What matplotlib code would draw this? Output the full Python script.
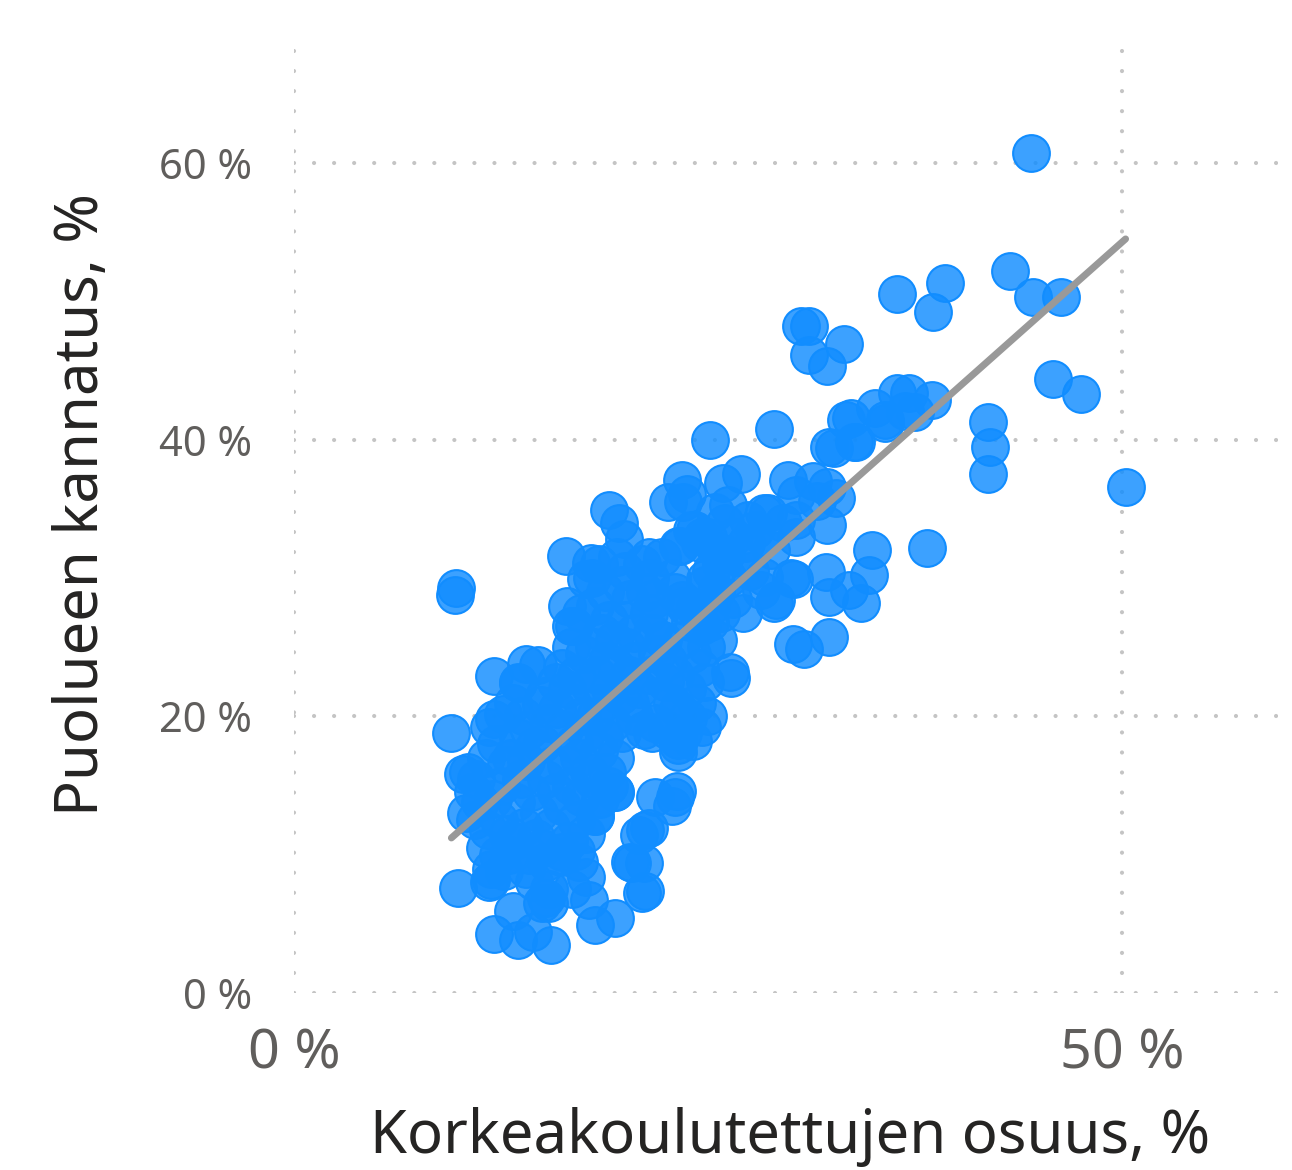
import numpy as np
import matplotlib.pyplot as plt

# korkeakoulutettujen osuus (%) ja puolueen kannatus (%)
edu = [
    # top / right outliers
    44.5, 43.2, 39.3, 38.6, 36.4, 44.6, 46.3, 30.6, 31.1, 31.1, 33.2, 32.2,
    45.8, 47.5, 41.9, 42.0, 41.9, 50.2, 38.2, 36.4, 37.1, 38.5, 35.1, 35.7,
    33.6, 33.9, 32.6, 29.0, 25.1, 27.0, 23.4, 23.7, 22.6, 25.9, 26.2, 29.8,
    31.3, 32.2, 32.7, 31.6, 30.3, 28.4, 32.2, 30.3, 29.5, 28.8, 30.2, 32.1,
    32.3, 33.5, 34.2, 32.3, 30.1, 30.8, 29.1, 27.1, 28.2, 34.9, 34.7, 27.5,
    35.7, 36.9, 37.5, 33.3, 33.8, 32.3, 27.4, 28.6, 30.3, 24.2, 23.2, 21.4,
    28.4, 23.4, 24.8, 26.4, 24.6, 26.1, 29.0, 30.0,
    # left outliers
    9.8, 9.7, 9.5, 12.1, 14.7, 13.5,
    # lower chain
    20.3, 21.1, 20.8, 21.4, 21.0, 21.8, 22.8, 23.0, 19.4, 19.4, 18.2, 15.5,
    14.4, 13.5, 13.2, 12.1, 9.9, 11.9, 15.4, 17.6, 17.8, 17.0, 18.2, 21.2,
    20.4, 21.2, 23.2, 23.1, 11.8, 15.2, 16.1, 23.2, 21.6,
    # dense cluster
    10.5, 10.2, 11.0, 10.8, 10.4, 11.2, 10.9, 11.7, 11.5, 12.3, 11.9, 12.1,
    11.8, 12.6, 12.2, 11.6, 12.8, 12.5, 12.0, 12.4, 12.9, 13.0, 12.7,
    13.2, 13.5, 14.0, 13.8, 14.2, 13.5, 13.1, 14.0, 14.5, 13.7, 14.3, 13.4,
    14.8, 13.9, 14.6, 13.3, 14.2, 15.0, 14.0, 15.2, 14.5, 15.4, 15.0, 16.2,
    15.5, 15.8, 15.2, 15.6, 15.0, 15.4, 15.9, 15.1, 15.8, 14.9,
    16.4, 16.5, 16.9, 17.3, 16.7, 17.5, 16.2, 17.0, 16.5, 17.8, 16.8, 17.4,
    16.3, 17.6, 16.9, 17.2, 16.4, 17.8, 16.7, 17.3, 16.2, 17.0, 18.2, 17.6,
    16.6, 16.8, 17.2, 17.9, 17.6, 16.7,
    18.0, 18.4, 18.8, 18.2, 19.0, 18.6, 19.3, 18.1, 18.9, 19.5, 18.3, 19.1,
    18.6, 19.7, 18.2, 19.2, 18.7, 19.8, 18.4, 19.4, 18.9, 18.0, 19.0, 18.5,
    19.4, 19.0, 19.6, 19.9, 19.5, 20.0, 19.8, 20.3, 20.0, 20.5, 20.1, 20.6,
    20.2, 20.8, 20.3, 21.1, 20.5,
    21.0, 21.5, 21.2, 21.8, 21.4, 22.0, 21.6, 22.3, 21.9, 22.6, 21.5, 22.4,
    23.0, 22.0, 22.8, 23.2, 21.8, 22.5, 23.8, 23.2, 23.5, 22.2, 22.8, 23.3,
    23.0, 23.6, 23.9, 24.2, 24.6, 23.4, 24.0, 24.5, 24.8, 23.7, 24.3, 25.0,
    24.6, 24.1, 23.5, 24.0, 24.5, 25.0, 25.5, 25.2, 25.8, 24.8, 25.5, 26.2,
    26.8, 27.3, 27.8, 28.3, 26.0, 26.5, 25.4, 25.2, 25.8, 26.5, 26.3, 25.1,
    25.6, 24.9,
]
support = [
    60.7, 52.2, 51.3, 49.2, 50.5, 50.3, 50.3, 48.2, 48.2, 46.1, 46.9, 45.3,
    44.4, 43.3, 41.3, 39.5, 37.5, 36.6, 32.2, 43.4, 43.4, 42.9, 42.3, 41.2,
    41.6, 39.8, 39.4, 40.8, 40.0, 37.5, 37.1, 36.1, 35.5, 36.9, 35.3, 37.1,
    37.0, 36.6, 35.8, 35.6, 36.0, 34.7, 33.8, 33.0, 34.0, 32.0, 29.9, 30.4,
    28.6, 29.1, 28.2, 25.7, 25.2, 24.9, 28.4, 27.5, 29.1, 32.0, 30.2, 30.5,
    41.4, 42.1, 42.0, 41.4, 39.8, 39.5, 34.2, 34.7, 34.2, 33.5, 32.3, 31.5,
    30.1, 28.4, 29.9, 22.8, 33.0, 31.7, 28.2, 30.0,
    29.3, 28.8, 18.8, 22.9, 23.7, 22.4,
    9.5, 9.4, 11.4, 11.9, 7.2, 14.2, 13.5, 14.2, 14.5, 5.4, 4.9, 3.5,
    4.4, 3.8, 5.9, 4.3, 7.6, 8.2, 6.5, 8.4, 6.7, 10.3, 12.8, 11.8,
    9.4, 7.4, 17.4, 14.6, 8.0, 6.9, 9.8, 18.3, 18.8,
    16.0, 15.8, 15.5, 14.5, 13.0, 13.8, 12.5, 11.8, 10.5, 10.0, 9.0, 19.8,
    19.2, 20.2, 18.0, 17.0, 16.5, 15.0, 14.0, 12.5, 11.5, 10.0, 8.8,
    21.0, 22.5, 23.8, 20.0, 19.0, 18.5, 17.0, 16.8, 17.8, 15.5, 14.5, 13.8,
    13.0, 12.0, 11.2, 11.0, 10.0, 10.5, 9.0, 9.5, 8.0, 7.5, 6.5, 10.2,
    12.0, 14.5, 15.5, 16.5, 18.0, 19.5, 20.5, 21.5, 22.5, 20.8,
    31.6, 28.0, 26.5, 27.5, 25.0, 24.5, 23.5, 23.0, 22.0, 22.3, 21.0, 20.0,
    19.0, 18.8, 18.0, 17.0, 16.5, 16.0, 15.0, 14.2, 13.5, 12.5, 12.8, 11.5,
    11.0, 7.5, 9.5, 31.1, 29.9, 26.5,
    30.0, 31.0, 29.0, 28.0, 27.0, 26.0, 25.5, 25.0, 24.0, 23.5, 23.0, 22.0,
    21.0, 21.5, 20.0, 19.5, 18.5, 18.8, 17.5, 17.0, 16.0, 15.5, 15.0, 14.0,
    14.5, 34.9, 34.0, 32.8, 31.5, 30.5, 29.5, 28.5, 27.0, 26.0, 25.0, 24.0,
    23.0, 22.0, 21.0, 19.0, 20.0,
    31.0, 30.0, 29.0, 28.5, 27.5, 27.0, 26.0, 25.5, 24.5, 24.0, 23.0, 22.5,
    23.0, 21.5, 21.0, 20.5, 19.5, 19.0, 19.9, 17.9, 18.8, 31.5, 30.0, 32.3,
    29.0, 28.0, 26.8, 27.8, 26.5, 25.5, 24.5, 23.5, 22.5, 22.0, 21.0, 20.0,
    19.2, 18.2, 35.5, 33.5, 32.5, 33.0, 32.0, 30.5, 31.0, 29.5, 29.0, 30.0,
    31.5, 32.5, 33.5, 33.0, 34.0, 33.0, 34.8, 28.0, 27.5, 28.5, 23.2, 26.8,
    25.5, 25.0,
]

# trend line
slope = 1.064
intercept = 1.1

xticks = [0, 50]
yticks = [0, 20, 40, 60]

plt.rcParams['font.family'] = ['Noto Sans', 'DejaVu Sans']

fig = plt.figure(figsize=(12.92, 11.7), dpi=100)
ax = fig.add_axes([294/1292, 1-993/1170, 984/1292, 960/1170])

ax.scatter(edu, support, s=700, facecolor=(17/255, 141/255, 1, 0.82),
           edgecolor=(17/255, 141/255, 1, 1.0), linewidth=1.5, zorder=3)

xs = np.array([min(edu), max(edu)])
ax.plot(xs, slope*xs + intercept, color='#999999', lw=5, solid_capstyle='round', zorder=4)

ax.set_xlim(0, 59.4)
ax.set_ylim(0, 69.4)
ax.set_xticks(xticks)
ax.set_xticklabels([f'{v} %' for v in xticks])
ax.set_yticks(yticks)
ax.set_yticklabels([f'{v} %' for v in yticks])

ax.grid(True, color='#c4c4c4', linestyle=(0, (0.01, 4.8)), linewidth=3, dash_capstyle='round')
ax.set_axisbelow(True)
for s in ax.spines.values():
    s.set_visible(False)

ax.tick_params(axis='x', length=0, pad=24, labelsize=40, labelcolor='#605E5C')
ax.tick_params(axis='y', length=0, pad=30, labelsize=30, labelcolor='#605E5C')

fig.text(790/1292, 1-1137/1170, 'Korkeakoulutettujen osuus, %', ha='center', va='center',
         fontsize=43, color='#252423')
fig.text(82/1292, 1-505/1170, 'Puolueen kannatus, %', ha='center', va='center',
         rotation=90, fontsize=43, color='#252423')

fig.savefig('out.png', dpi=100, facecolor='white')
